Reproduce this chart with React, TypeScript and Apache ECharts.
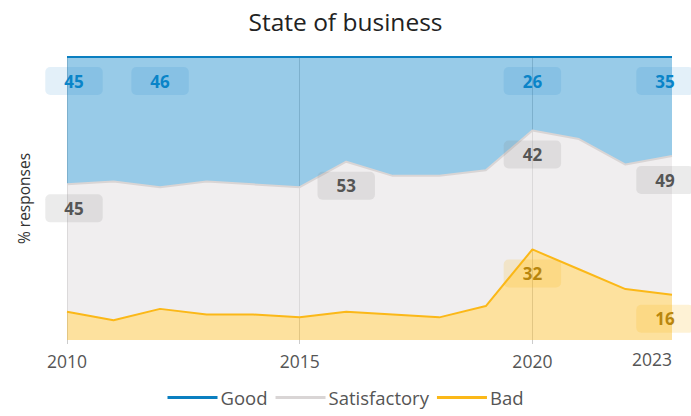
import React, { useEffect, useRef } from "react";
import * as echarts from "echarts";

const years = ["2010","2011","2012","2013","2014","2015","2016","2017","2018","2019","2020","2021","2022","2023"];
const good = [45, 44, 46, 44, 45, 46, 37, 42, 42, 40, 26, 29, 38, 35];
const satisfactory = [45, 49, 43, 47, 46, 46, 53, 49, 50, 48, 42, 46, 44, 49];
const bad = [10, 7, 11, 9, 9, 8, 10, 9, 8, 12, 32, 25, 18, 16];
const shownTicks = ["2010", "2015", "2020", "2023"];

const goodLabelIdx = [0, 2, 10, 13];
const satLabelIdx = [0, 6, 10, 13];
const badLabelIdx = [10, 13];

const FONT = "Open Sans";

function withLabels(values: number[], idx: number[], textColor: string, bg: string) {
  return values.map((v, i) => {
    if (!idx.includes(i)) return v;
    const off = i === 0 ? [7, 0] : i === values.length - 1 ? [-7, 0] : [0, 0];
    return {
      value: v,
      label: {
        show: true,
        position: "bottom",
        distance: 10,
        offset: off,
        color: textColor,
        fontFamily: FONT,
        fontWeight: "bold",
        fontSize: 17,
        backgroundColor: bg,
        borderRadius: 5,
        padding: [5, 19, 5, 19],
        lineHeight: 18,
        formatter: String(v),
      },
    };
  });
}

export default function App() {
  const ref = useRef<HTMLDivElement>(null);
  useEffect(() => {
    const chart = echarts.init(ref.current!, null, { renderer: "svg" });
    const common = {
      type: "line",
      stack: "total",
      symbol: "circle",
      symbolSize: 0,
      showSymbol: true,
      smooth: false,
      clip: false,
    };
    chart.setOption({
      animation: false,
      title: {
        text: "State of business",
        left: "center",
        top: 4,
        textStyle: { fontFamily: FONT, fontSize: 24.5, fontWeight: "normal", color: "#222" },
      },
      legend: {
        data: ["Good", "Satisfactory", "Bad"],
        bottom: 4,
        left: "center",
        icon: "rect",
        itemWidth: 50,
        itemHeight: 3,
        itemGap: 8,
        textStyle: { fontFamily: FONT, fontSize: 18.5, color: "#555", padding: [0, 0, 0, -2] },
      },
      grid: { left: 67, right: 19, top: 57, bottom: 76, containLabel: false },
      xAxis: {
        type: "category",
        data: years,
        boundaryGap: false,
        axisLine: { show: false },
        axisTick: {
          show: true,
          length: 4,
          lineStyle: { color: "#ccc" },
          interval: (i: number, v: string) => v !== "2023" && shownTicks.includes(v),
        },
        axisLabel: {
          interval: (i: number, v: string) => shownTicks.includes(v),
          fontFamily: FONT,
          fontSize: 17.5,
          color: "#555",
          margin: 12,
          alignMaxLabel: "right",
          formatter: (v: string) => (v === "2023" ? "{hi|" + v + "}" : v),
          rich: { hi: { fontFamily: FONT, fontSize: 17.5, color: "#555", lineHeight: 14 } },
        },
        splitLine: {
          show: true,
          interval: (i: number, v: string) => v !== "2023" && shownTicks.includes(v),
          lineStyle: { color: "rgba(0,0,0,0.18)", width: 1 },
        },
      },
      yAxis: {
        type: "value",
        min: 0,
        max: 100,
        name: "% responses",
        nameLocation: "middle",
        nameGap: 35,
        nameTextStyle: { fontFamily: FONT, fontSize: 15.5, color: "#333" },
        axisLabel: { show: false },
        axisLine: { show: false },
        axisTick: { show: false },
        splitLine: { show: false },
      },
      series: [
        {
          ...common,
          name: "Bad",
          data: withLabels(bad, badLabelIdx, "#b8860e", "rgba(251,184,24,0.18)"),
          itemStyle: { color: "#fbb818" },
          lineStyle: { color: "#fbb818", width: 2 },
          areaStyle: { color: "#fbb818", opacity: 0.42 },
        },
        {
          ...common,
          name: "Satisfactory",
          data: withLabels(satisfactory, satLabelIdx, "#555", "rgba(128,128,128,0.16)"),
          itemStyle: { color: "#d9d5d5" },
          lineStyle: { color: "#d9d5d5", width: 2 },
          areaStyle: { color: "#e4e0e2", opacity: 0.55 },
        },
        {
          ...common,
          name: "Good",
          data: withLabels(good, goodLabelIdx, "#0a84c8", "rgba(0,120,200,0.11)"),
          itemStyle: { color: "#0a7fc0" },
          lineStyle: { color: "#0a7fc0", width: 2 },
          areaStyle: { color: "#0a84c8", opacity: 0.42 },
        },
      ],
    });
    return () => chart.dispose();
  }, []);
  return <div ref={ref} style={{ width: 691, height: 416, position: "absolute", left: 0, top: 0 }} />;
}
